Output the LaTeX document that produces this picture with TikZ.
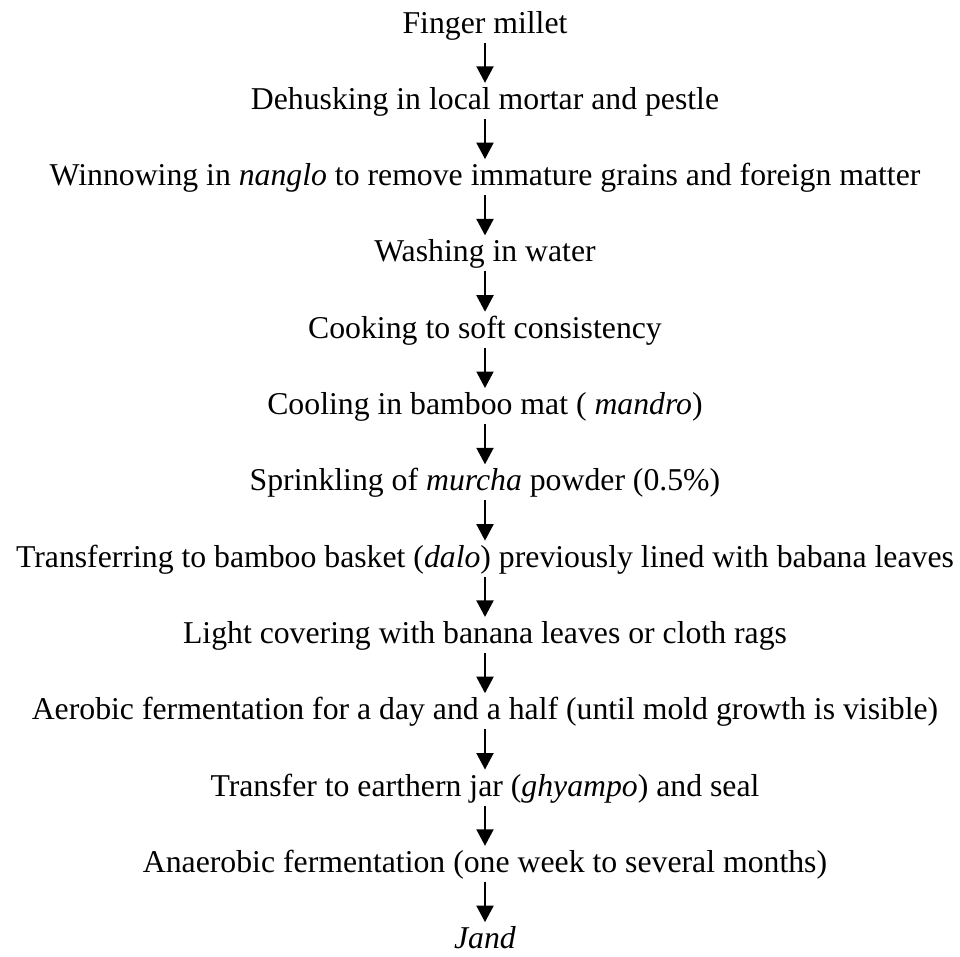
\documentclass[tikz,border=0pt]{standalone}
\usepackage{fontspec}
\setmainfont{Liberation Serif}
\usetikzlibrary{arrows.meta}

\begin{document}
\begin{tikzpicture}[x=.4pt,y=-.4pt,
    stage/.style={inner sep=0pt,text height=10.4pt,text depth=3.6pt,anchor=base,
      font=\fontsize{12.7}{15}\selectfont},
    flow/.style={-{Triangle[length=6.6pt,width=6.8pt]},line width=.8pt}]
  \useasboundingbox(0,0)rectangle(960,956);
  % process steps, top to bottom
  \foreach \t [count=\i] in {
      {Finger millet},
      {Dehusking in local mortar and pestle},
      {Winnowing in \textit{nanglo} to remove immature grains and foreign matter},
      {Washing in water},
      {Cooking to soft consistency},
      {Cooling in bamboo mat ( \textit{mandro})},
      {Sprinkling of \textit{murcha} powder (0.5\%)},
      {Transferring to bamboo basket (\textit{dalo}) previously lined with babana leaves},
      {Light covering with banana leaves or cloth rags},
      {Aerobic fermentation for a day and a half (until mold growth is visible)},
      {Transfer to earthern jar (\textit{ghyampo}) and seal},
      {Anaerobic fermentation (one week to several months)},
      {\textit{Jand}}}{
    \node[stage](s\i)at(485,{33+76.3*(\i-1)}){\t};}
  \foreach \i in {1,...,12}{
    \pgfmathtruncatemacro{\j}{\i+1}
    \draw[flow](s\i)--(s\j);}
\end{tikzpicture}
\end{document}
